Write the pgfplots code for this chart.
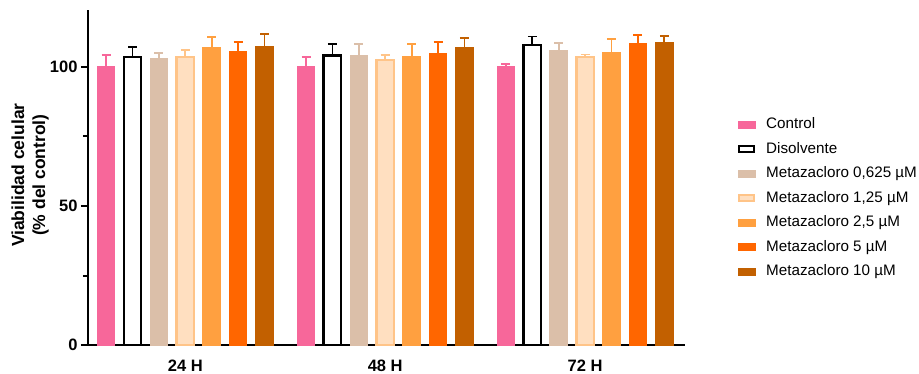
\documentclass[border=0pt]{standalone}
\usepackage{fontspec}
\setmainfont{Liberation Sans}
\usepackage{pgfplots}
\pgfplotsset{compat=1.18}

\definecolor{cControl}{HTML}{F7679A}
\definecolor{cT1}{HTML}{DBBFA9}
\definecolor{cT2fill}{HTML}{FFDFC0}
\definecolor{cT2edge}{HTML}{FFC488}
\definecolor{cT3}{HTML}{FFA040}
\definecolor{cT4}{HTML}{FF6600}
\definecolor{cT5}{HTML}{C26000}

% bar style with error bars in the same colour
\pgfplotsset{
  colbar/.style 2 args={fill=#1, draw=#2, line width=1pt,
    error bars/error bar style={#2, line width=1.8pt},
    error bars/error mark options={#2, rotate=90, mark size=4.5pt, line width=1.8pt}},
}

\begin{document}
\begin{tikzpicture}
\begin{axis}[
  name=ax,
  scale only axis,
  width=597pt, height=335pt,
  xmin=-0.487, xmax=2.5,
  ymin=0, ymax=120.5,
  axis x line=bottom, axis y line=left,
  axis line style={-, line width=2.2pt, black},
  ybar=8.9pt, bar width=17.5pt,
  xtick={0,1,2},
  xticklabels={24 H,48 H,72 H},
  major x tick style={draw=none},
  ytick={0,50,100},
  minor ytick={25,75},
  tick align=outside,
  major tick length=7pt, minor tick length=5pt,
  major y tick style={line width=2pt, black},
  minor y tick style={line width=2pt, black},
  /pgf/number format/assume math mode=true,
  ticklabel style={font=\fontsize{16.5}{19}\selectfont\bfseries},
  xticklabel style={yshift=-4pt},
  ylabel={Viabilidad celular\\(\% del control)},
  ylabel style={align=center, font=\fontsize{17.5}{21}\selectfont\bfseries,
    at={(axis description cs:-0.097,0.507)}, anchor=center},
  error bars/y dir=plus,
  error bars/y explicit,
  legend style={at={(axis description cs:1.083,0.685)}, anchor=north west,
    draw=none, fill=none, font=\fontsize{15.2}{18}\selectfont,
    row sep=10.5pt,
    nodes={inner sep=0pt, text height=11pt, text depth=3pt}},
  legend cell align=left,
  legend image code/.code={\draw[#1, line width=1pt] (0pt,-3.5pt) rectangle (17pt,3.5pt); \path[draw=none, fill=none] (17pt,0) -- (28pt,0);},
  clip=false,
]
% Control
\addplot[colbar={cControl}{cControl}]
  coordinates {(0,100) +- (0,4.4) (1,100) +- (0,3.5) (2,100) +- (0,1.2)};
% Disolvente
\addplot[colbar={white}{black}, line width=2.4pt,
  legend image code/.code={\draw[black, fill=white, line width=2.2pt] (1pt,-3pt) rectangle (16pt,3pt); \path[draw=none, fill=none] (17pt,0) -- (28pt,0);}]
  coordinates {(0,103.7) +- (0,3.6) (1,104.2) +- (0,4.1) (2,108.0) +- (0,3.0)};
% Metazacloro 0,625
\addplot[colbar={cT1}{cT1}]
  coordinates {(0,103.0) +- (0,2.1) (1,104.1) +- (0,4.3) (2,106.0) +- (0,2.7)};
% Metazacloro 1,25
\addplot[colbar={cT2fill}{cT2edge}, line width=2.4pt,
  legend image code/.code={\draw[cT2edge, fill=cT2fill, line width=2.2pt] (1pt,-3pt) rectangle (16pt,3pt); \path[draw=none, fill=none] (17pt,0) -- (28pt,0);}]
  coordinates {(0,103.7) +- (0,2.5) (1,102.5) +- (0,1.9) (2,103.6) +- (0,0.9)};
% Metazacloro 2,5
\addplot[colbar={cT3}{cT3}]
  coordinates {(0,107.0) +- (0,3.8) (1,103.8) +- (0,4.6) (2,105.3) +- (0,4.9)};
% Metazacloro 5
\addplot[colbar={cT4}{cT4}]
  coordinates {(0,105.5) +- (0,3.6) (1,104.9) +- (0,4.2) (2,108.3) +- (0,3.1)};
% Metazacloro 10
\addplot[colbar={cT5}{cT5}]
  coordinates {(0,107.4) +- (0,4.5) (1,107.1) +- (0,3.2) (2,108.9) +- (0,2.3)};
\legend{Control, Disolvente, {Metazacloro 0,625 µM}, {Metazacloro 1,25 µM},
  {Metazacloro 2,5 µM}, {Metazacloro 5 µM}, {Metazacloro 10 µM}}
\end{axis}
\pgfresetboundingbox
\path[use as bounding box] (ax.south west) ++(-88pt,-28pt) rectangle ++(919pt,373pt);
\end{tikzpicture}
\end{document}
